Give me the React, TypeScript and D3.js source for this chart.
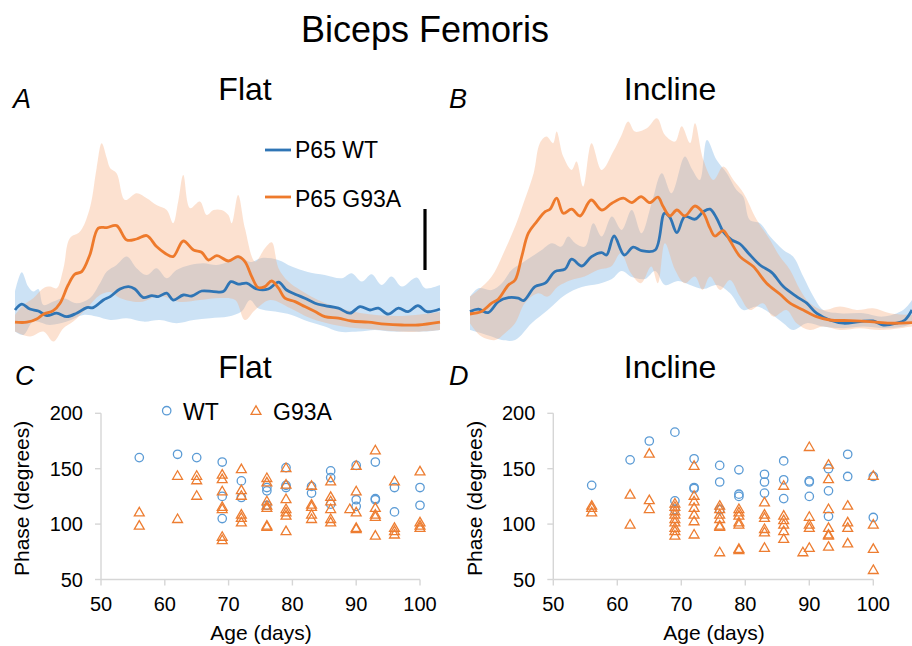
import React from 'react';
import * as d3 from 'd3';

type P = [number, number];

// ---- Top panels: normalized step cycle (%) vs EMG amplitude (a.u.) ----
const flatWtMean: P[] = [[0,17.5],[1.6,20.4],[3.5,18],[5.5,17],[7.5,14.7],[9.8,15.9],[12.2,14.2],[14.5,15.9],[16.9,18.7],[18.4,18.7],[20.8,22.5],[22.4,24.2],[24.7,28],[26.7,29.2],[28.2,28],[30.2,23.7],[32.2,24.7],[33.7,24.2],[35.7,25.9],[37.2,22.5],[39.6,25],[41.6,24.5],[43.9,27],[46.7,26.7],[49,26.7],[50.8,31.7],[52.5,30.4],[54.5,30.9],[56.9,28],[59.6,28],[62,31.4],[63.9,27.5],[65.9,25.4],[68.2,23.4],[70.6,20.9],[72.9,19.7],[76.1,18.4],[78.8,15.9],[81.2,19.2],[83.5,17.5],[85.5,18.4],[87.8,15.4],[90.2,18.4],[92.5,16.7],[94.8,19.7],[96.9,16.7],[100,18]];
const flatWtUpper: P[] = [[0,26.7],[1.6,36.4],[3.1,29.2],[4.3,26.7],[5.5,28],[6.7,20],[9,21.7],[11.4,23.4],[14.5,20.9],[17.6,23.4],[20,30.9],[21.6,36.7],[23.9,40],[26.3,44.2],[28.6,38.4],[31,35],[33.3,38.4],[35.7,33.4],[38,37.5],[41.2,40],[44.3,40.9],[47.5,40],[50.2,41.7],[52.5,45],[55.3,41.5],[58.1,43.5],[61.9,42.5],[65.1,39.2],[68.9,36.5],[72.9,35],[76.9,33.4],[79.2,35.9],[81.6,31.7],[83.9,35.4],[86.3,30],[88.6,34.2],[91,29.2],[94.5,33.7],[96.5,28.4],[100,30]];
const flatWtLower: P[] = [[0,6.7],[2,5],[4.3,11.7],[8.2,10],[12.2,11.7],[16.1,15],[19.2,14.2],[22.4,12.5],[26.3,13.4],[30.2,11.7],[34.1,12.5],[38,10.9],[42,12.5],[45.9,13.4],[50.2,14.2],[53.3,16.7],[55.3,22.5],[57.2,18.4],[61.2,16.7],[65.1,15],[69,11.7],[72.9,9.2],[76.1,6.7],[80.8,6.7],[84.7,7.5],[88.6,6.7],[92.5,6.7],[96.5,6.7],[100,7.5]];

const flatG93aMean: P[] = [[0,11.4],[2.8,11.4],[5.1,13],[6.7,15.4],[9,17.2],[10.6,20.9],[12.5,30],[14.1,35.4],[15.7,36.7],[17.6,45],[19.6,58.4],[21.6,58.7],[23.9,59.7],[26.3,52.5],[28.6,53],[31,54.7],[33.3,49.2],[35.3,45.9],[37.2,44.2],[39.6,52],[42,47.5],[43.9,46.4],[45.5,42.5],[47.5,44.7],[50.2,42],[52.5,44.2],[54.1,41.7],[55.7,34.2],[57.2,28.7],[58.8,29.2],[60.4,32],[62,28.4],[63.5,23.4],[65.9,21.7],[68.2,19.2],[70.6,16.7],[72.9,14.2],[76.1,13.4],[79.2,12],[83.1,11.4],[87.1,10.4],[91,10],[94.9,10],[100,11.4]];
const flatG93aUpper: P[] = [[0,15],[2,20],[4.3,23.4],[6.7,28.4],[8.2,29.2],[9.8,28.4],[11.4,38.4],[12.9,53.4],[15.3,56.7],[17.6,68.4],[19.2,88.4],[20.4,100.9],[21.6,93.4],[22.4,88.4],[23.9,85.9],[25.9,72.5],[28.6,75.9],[31,73.4],[33.3,70],[35.7,67.5],[37.2,60.9],[38.4,71.7],[39.6,85],[41.2,68.4],[43.5,71.7],[45.1,65],[46.7,67.5],[48.6,67.5],[50.2,65],[51,60.9],[52.5,75],[54.1,58.4],[56.5,41.7],[58.8,48.4],[60.4,51.4],[62,38.4],[64.3,31.7],[67.1,27.5],[72.9,21],[81.2,16],[90.6,14.5],[100,16.5]];
const flatG93aLower: P[] = [[0,6.7],[3.5,4.2],[6.7,6.7],[9,1.7],[11.4,8.4],[13.7,11.7],[16.9,18.4],[20,25],[22.4,26.5],[24.7,23.5],[29.4,21.5],[34.1,24.5],[38.8,21.5],[43.5,22.5],[48.2,23.5],[51.8,22.5],[54.1,12.5],[56.5,17.5],[60,22.5],[64.7,18.5],[69.4,13.5],[76.5,9.5],[85.9,7.5],[92.9,6.5],[100,7.5]];

const inclineWtMean: P[] = [[0,16.7],[1.9,17.9],[4.1,16.2],[6.4,21.7],[8.7,23.7],[10.9,23.4],[12.1,22.2],[14.7,29.2],[17,30.9],[19.2,36.7],[21.5,37.9],[23,42.9],[25.3,39.5],[27.5,44.2],[29.8,46.2],[30.9,45],[32.6,54.5],[34.9,45],[36.9,48.9],[38.8,47.2],[41.9,47.5],[44,65.9],[45.2,63.9],[46.8,56.2],[48.6,64.2],[50.9,62.9],[52.8,66.7],[54.3,67.9],[55.8,63.4],[57.3,56.7],[59.2,52.5],[61.1,50.5],[63,45.9],[65.6,40],[68.3,36.2],[70.9,29.2],[73.9,24.2],[76.2,20.9],[78.4,15.9],[81.4,12.5],[84.5,10.9],[88.2,11.7],[91.2,12],[93.5,10],[96.5,10.9],[98.4,12.5],[100,17.5]];
const inclineWtUpper: P[] = [[0,24.2],[1.9,28.4],[4.9,27.5],[7.2,30.9],[9.4,37.5],[11.7,40.9],[14,44.2],[16.2,47.5],[18.5,50.9],[20.7,49.2],[22.2,54.2],[23.8,50.9],[26,49.2],[27.9,60.9],[29.8,54.2],[32.1,64.2],[34.3,57.5],[36.6,67.5],[38.8,55.9],[41.1,70.9],[43.4,85.9],[45.6,75.9],[48.6,94.2],[50.2,88],[52,82.5],[53.6,102.5],[55.8,92.5],[58.1,85.9],[60.3,77.5],[61.8,74.2],[63.3,62.5],[65.6,60.9],[67.9,54.2],[70.9,47.5],[73.1,44.2],[75.4,34.2],[77.7,24.2],[79.9,17.5],[83.7,15.9],[89,15.9],[93.5,14.2],[98,17.5],[100,22.5]];
const inclineWtLower: P[] = [[0,7.5],[2.6,5.9],[4.9,4.2],[7.2,2.5],[10.2,2.5],[14,11],[17.6,17.5],[21.5,25],[25.3,29],[29,30.5],[32.1,33],[34.3,37],[36.6,34],[39.6,33],[41.9,37],[44.1,30],[47.1,32],[49.8,30],[52.8,28],[55.8,30],[58.8,26],[61.8,17.5],[64.9,19.2],[67.9,15.9],[70.9,10.9],[73.1,7.5],[76.2,10.9],[79.9,9.2],[84.5,8.4],[89,9.2],[93.5,8.4],[98,9.2],[100,10.9]];

const inclineG93aMean: P[] = [[0,15.5],[2.6,16.7],[4.9,20.9],[6.4,22.9],[8.7,30],[10.2,32.5],[11.7,44.2],[13.2,55.9],[15.1,61.7],[17,66.7],[18.1,67.9],[19.6,73.4],[21.1,65.9],[23,67.9],[24.9,64.5],[27.4,72.5],[29.8,67.5],[32.1,70.9],[34.7,73.4],[36.6,71.2],[38.7,74.2],[40.7,71.2],[42.5,73.9],[43.7,69.2],[45.2,64.5],[46.8,67.5],[48.6,64.5],[50.9,69.5],[52.8,65.9],[54.3,58.4],[55.4,54.5],[57.3,57.2],[58.8,52.2],[61.1,44.2],[64.1,39.2],[67.1,30.9],[70.1,25.5],[72.4,20.9],[75.4,17.5],[78.4,14.2],[81.4,12.5],[86,12.2],[90.5,11.7],[95,10.9],[100,11.2]];
const inclineG93aUpper: P[] = [[0,24.2],[1.9,27.5],[4.9,34.2],[7.9,47.5],[10.2,59.2],[12.1,70.9],[14.4,85.9],[15.8,100.9],[17.3,104.2],[18.8,100.9],[19.6,106.7],[21.1,94.2],[23,87.5],[24.1,91.7],[25.6,79.2],[27.5,100.9],[29.8,87.5],[32.4,96.7],[34.3,105],[35.8,111.7],[37.3,106.7],[40,108.4],[42.3,113.4],[44.1,105],[46.4,101.7],[47.9,109.4],[49.8,101],[50.9,110.9],[52.8,92.5],[55.1,82.5],[57.3,89.2],[59.6,82.5],[61.9,75.9],[64.9,62.5],[67.9,52.5],[70.1,44.2],[72.4,37.5],[74.7,27.5],[76.9,20.9],[79.9,17.5],[83.7,19.2],[87.5,17.5],[91.2,18.4],[95,15.9],[100,15]];
const inclineG93aLower: P[] = [[0,10.9],[2.6,4.2],[5.7,2.5],[7.9,5.9],[10.2,10.9],[12.4,20.9],[15.4,25.9],[17.6,24.2],[19.9,29.2],[22.9,32.5],[25.9,34.2],[28.9,37.5],[31.9,39.2],[34.1,45.9],[36.4,35.9],[38.7,30.9],[41,39.2],[42.5,30.9],[44.1,50.9],[46.4,37.5],[48.6,30.9],[50.9,34.2],[52.6,27.5],[54.3,34.2],[56.6,27.5],[58.8,32.5],[61.1,24.2],[63.3,17.5],[66.3,20.9],[68.6,14.2],[71.6,17.5],[73.9,10.9],[76.9,7.5],[79.9,9.2],[83.7,7.5],[88.2,8.4],[92.8,7.5],[97.3,8.4],[100,9.2]];

// ---- Bottom panels: phase (degrees) vs age (days) ----
const ageTicks = [50, 60, 70, 80, 90, 100];
const phaseTicks = [50, 100, 150, 200];

const flatWT: P[] = [[56,160],[62,163],[65,160],[69,156],[69,125],[69,105],[72,139],[72,124],[76,133],[76,130],[76,117],[79,151],[79,135],[79,133],[83,134],[83,128],[86,148],[86,142],[86,118],[90,153],[90,122],[90,116],[93,156],[93,123],[93,122],[96,133],[96,111],[100,133],[100,117]];
const flatG93A: P[] = [[56,110],[56,98],[62,143],[62,104],[65,143],[65,139],[65,125],[69,144],[69,140],[69,129],[69,115],[69,113],[69,88],[69,85],[72,149],[72,130],[72,125],[72,108],[72,105],[72,101],[76,141],[76,137],[76,120],[76,116],[76,114],[76,98],[76,97],[79,150],[79,135],[79,122],[79,113],[79,110],[79,107],[79,93],[83,134],[83,117],[83,115],[83,108],[83,104],[86,138],[86,124],[86,120],[86,113],[86,104],[86,101],[89,113],[90,152],[90,129],[90,110],[90,96],[90,95],[93,166],[93,114],[93,108],[93,106],[93,89],[96,138],[96,96],[96,93],[96,90],[100,147],[100,101],[100,98],[100,96]];
const inclineWT: P[] = [[56,135],[62,158],[65,175],[69,183],[69,121],[69,113],[72,159],[72,133],[72,132],[76,153],[76,138],[76,113],[79,149],[79,127],[79,125],[83,145],[83,138],[83,128],[86,157],[86,140],[86,123],[90,139],[90,138],[90,125],[93,150],[93,130],[93,107],[96,163],[96,143],[100,143],[100,106]];
const inclineG93A: P[] = [[56,116],[56,114],[56,110],[62,126],[62,99],[65,163],[65,121],[65,113],[69,118],[69,115],[69,111],[69,108],[69,104],[69,101],[69,96],[69,93],[69,89],[72,152],[72,125],[72,120],[72,114],[72,108],[72,102],[72,90],[76,116],[76,113],[76,108],[76,104],[76,98],[76,97],[76,74],[79,113],[79,110],[79,107],[79,101],[79,99],[79,77],[79,76],[83,119],[83,108],[83,105],[83,95],[83,92],[83,78],[86,134],[86,107],[86,103],[86,99],[86,93],[86,86],[89,74],[90,169],[90,106],[90,99],[90,96],[90,78],[93,153],[93,140],[93,113],[93,96],[93,90],[93,89],[93,79],[96,116],[96,101],[96,96],[96,82],[100,143],[100,99],[100,77],[100,58]];

const FONT = '"Liberation Sans", Arial, Helvetica, sans-serif';
const BLUE_LINE = '#2f75b5';
const ORANGE_LINE = '#ee7a2c';
const BLUE_MARK = '#5b9bd5';
const ORANGE_MARK = '#ed7d31';
const AXIS = '#d6d6d6';

function bandPath(upper: P[], lower: P[], x: d3.ScaleLinear<number, number>, y: d3.ScaleLinear<number, number>) {
  const line = d3.line<P>().x(d => x(d[0])).y(d => y(d[1])).curve(d3.curveCatmullRom.alpha(0.5));
  const up = line(upper) as string;
  const lo = line([...lower].reverse()) as string;
  return up + 'L' + lo.slice(1) + 'Z';
}

function TracePanel({ x, y, wtMean, wtUp, wtLo, gMean, gUp, gLo }: any) {
  const line = d3.line<P>().x(d => x(d[0])).y(d => y(d[1])).curve(d3.curveCatmullRom.alpha(0.5));
  return (
    <g>
      <path d={bandPath(wtUp, wtLo, x, y)} fill="rgb(143,190,232)" fillOpacity={0.45} />
      <path d={bandPath(gUp, gLo, x, y)} fill="rgb(247,170,120)" fillOpacity={0.35} />
      <path d={line(wtMean) as string} fill="none" stroke={BLUE_LINE} strokeWidth={2.8} strokeLinejoin="round" />
      <path d={line(gMean) as string} fill="none" stroke={ORANGE_LINE} strokeWidth={2.8} strokeLinejoin="round" />
    </g>
  );
}

const tri = d3.symbol().type(d3.symbolTriangle).size(42)() as string;

function ScatterPanel({ x, y, wt, g, labelX, yLabelX }: any) {
  const [x0, x1] = x.range();
  const [y0, y1] = y.range();
  return (
    <g fontFamily={FONT}>
      <line x1={x0} x2={x0} y1={y0} y2={y1} stroke={AXIS} strokeWidth={1.4} />
      <line x1={x0} x2={x1} y1={y0} y2={y0} stroke={AXIS} strokeWidth={1.4} />
      {phaseTicks.map(t => (
        <g key={'y' + t}>
          <line x1={x0 - 6} x2={x0} y1={y(t)} y2={y(t)} stroke={AXIS} strokeWidth={1.4} />
          <text x={x0 - 18} y={y(t) + 7} textAnchor="end" fontSize={20} fill="#000">{t}</text>
        </g>
      ))}
      {ageTicks.map(t => (
        <g key={'x' + t}>
          <line x1={x(t)} x2={x(t)} y1={y0} y2={y0 + 6} stroke={AXIS} strokeWidth={1.4} />
          <text x={x(t)} y={y0 + 31} textAnchor="middle" fontSize={20} fill="#000">{t}</text>
        </g>
      ))}
      <text x={labelX} y={640} textAnchor="middle" fontSize={21} fill="#000">Age (days)</text>
      <text transform={`translate(${yLabelX},${(y0 + y1) / 2 + 2}) rotate(-90)`} textAnchor="middle" fontSize={21} fill="#000">Phase (degrees)</text>
      {wt.map((d: P, i: number) => (
        <circle key={'w' + i} cx={x(d[0])} cy={y(d[1])} r={4.2} fill="none" stroke={BLUE_MARK} strokeWidth={1.3} />
      ))}
      {g.map((d: P, i: number) => (
        <path key={'g' + i} d={tri} transform={`translate(${x(d[0])},${y(d[1])})`} fill="none" stroke={ORANGE_MARK} strokeWidth={1.3} />
      ))}
    </g>
  );
}

export default function App() {
  const xA = d3.scaleLinear().domain([0, 100]).range([15, 440]);
  const xB = d3.scaleLinear().domain([0, 100]).range([470, 912]);
  const yTop = d3.scaleLinear().domain([0, 115]).range([345, 115]);
  const xC = d3.scaleLinear().domain([50, 100]).range([101, 420]);
  const xD = d3.scaleLinear().domain([50, 100]).range([553.3, 873.3]);
  const yS = d3.scaleLinear().domain([50, 200]).range([579.5, 413.3]);

  return (
    <svg width={912} height={646} style={{ position: 'absolute', left: 0, top: 0, background: '#fff' }} fontFamily={FONT}>
      <rect width={912} height={646} fill="#fff" />
      <text x={425} y={42} textAnchor="middle" fontSize={36}>Biceps Femoris</text>

      <text x={13} y={108} fontSize={27} fontStyle="italic">A</text>
      <text x={245} y={100} textAnchor="middle" fontSize={32}>Flat</text>
      <text x={449} y={108} fontSize={27} fontStyle="italic">B</text>
      <text x={670} y={100} textAnchor="middle" fontSize={32}>Incline</text>

      <TracePanel x={xA} y={yTop} wtMean={flatWtMean} wtUp={flatWtUpper} wtLo={flatWtLower}
        gMean={flatG93aMean} gUp={flatG93aUpper} gLo={flatG93aLower} />
      <TracePanel x={xB} y={yTop} wtMean={inclineWtMean} wtUp={inclineWtUpper} wtLo={inclineWtLower}
        gMean={inclineG93aMean} gUp={inclineG93aUpper} gLo={inclineG93aLower} />

      <line x1={265} x2={291} y1={150} y2={150} stroke={BLUE_LINE} strokeWidth={2.8} />
      <text x={295} y={158} fontSize={23}>P65 WT</text>
      <line x1={265} x2={291} y1={197} y2={197} stroke={ORANGE_LINE} strokeWidth={2.8} />
      <text x={295} y={207} fontSize={23}>P65 G93A</text>
      <line x1={425} x2={425} y1={209} y2={270} stroke="#000" strokeWidth={3.2} />

      <text x={15} y={385} fontSize={27} fontStyle="italic">C</text>
      <text x={245} y={378} textAnchor="middle" fontSize={32}>Flat</text>
      <text x={449} y={385} fontSize={27} fontStyle="italic">D</text>
      <text x={670} y={378} textAnchor="middle" fontSize={32}>Incline</text>

      <circle cx={166.7} cy={410.7} r={4.2} fill="none" stroke={BLUE_MARK} strokeWidth={1.3} />
      <text x={183} y={420} fontSize={23}>WT</text>
      <path d={tri} transform="translate(256,411.5)" fill="none" stroke={ORANGE_MARK} strokeWidth={1.3} />
      <text x={273} y={420} fontSize={23}>G93A</text>

      <ScatterPanel x={xC} y={yS} wt={flatWT} g={flatG93A} labelX={261} yLabelX={29} />
      <ScatterPanel x={xD} y={yS} wt={inclineWT} g={inclineG93A} labelX={714} yLabelX={482} />
    </svg>
  );
}
